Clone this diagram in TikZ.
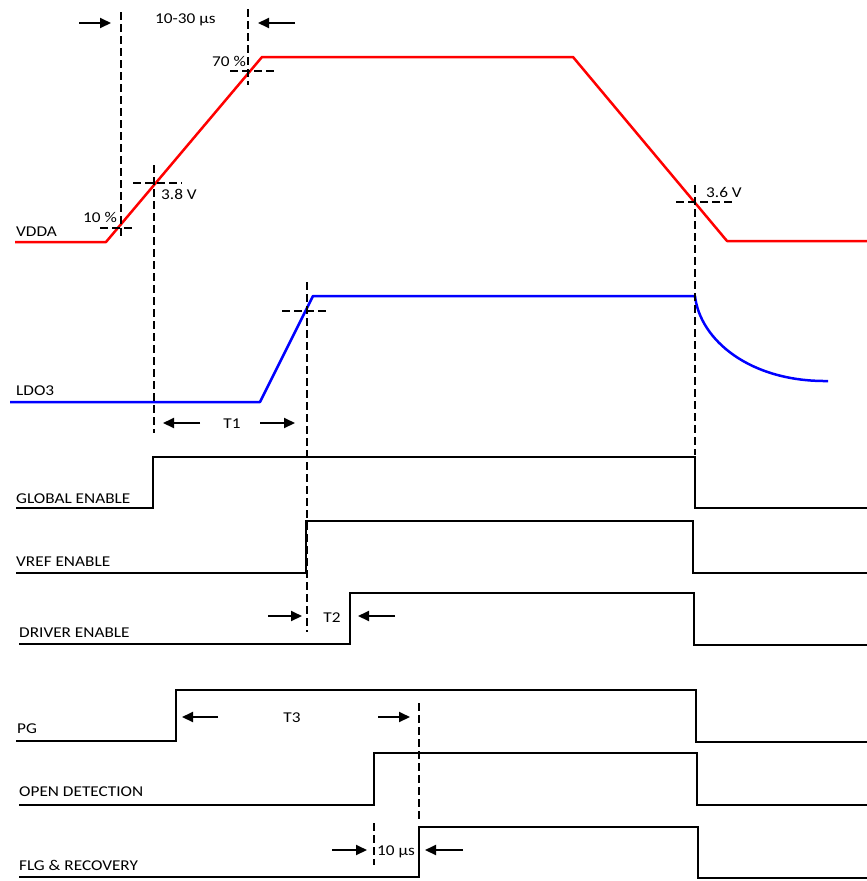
\documentclass[tikz,border=0pt]{standalone}
\usepackage{fontspec}
\setmainfont{Carlito}[FakeStretch=1.15]
\usetikzlibrary{arrows.meta}
\begin{document}
\begin{tikzpicture}[x=1pt,y=-1pt,
  sig/.style={line width=2pt, line join=miter},
  vdda/.style={red, line width=2.5pt, line join=round},
  ldo/.style={blue, line width=2.5pt, line join=round},
  guide/.style={line width=1.8pt, dash pattern=on 8pt off 4pt},
  dimarrow/.style={line width=2pt, -{Triangle[length=11pt,width=10pt]}},
  lbl/.style={anchor=base west, inner sep=0pt, font=\fontsize{15}{18}\selectfont},
  clbl/.style={anchor=base, inner sep=0pt, font=\fontsize{15}{18}\selectfont}]
\useasboundingbox (0,0) rectangle (867,881);

% signals
\draw[vdda] (15,242) -- (106,242) -- (262,57) -- (573,57) -- (727,241) -- (867,241);
\draw[ldo] (10,402) -- (260,402) -- (313,296) -- (695,296) .. controls (700,340) and (750,382) .. (828,381);
\draw[sig] (16,508) -- (153,508) -- (153,457) -- (695,457) -- (695,508) -- (867,508);
\draw[sig] (16,573) -- (306,573) -- (306,521) -- (693,521) -- (693,573) -- (867,573);
\draw[sig] (19,644) -- (350,644) -- (350,593) -- (694,593) -- (694,645) -- (867,645);
\draw[sig] (16,741) -- (176,741) -- (176,690) -- (696,690) -- (696,742) -- (867,742);
\draw[sig] (19,805) -- (374,805) -- (374,753) -- (697,753) -- (697,805) -- (867,805);
\draw[sig] (19,877) -- (419,877) -- (419,827) -- (698,827) -- (698,878) -- (867,878);

% guide lines
\draw[guide] (121,12) -- (121,238);
\draw[guide] (100,228) -- (135,228);
\draw[guide] (248,9) -- (248,85);
\draw[guide] (230,71) -- (277,71);
\draw[guide] (154,165) -- (154,433);
\draw[guide] (133,183) -- (182,183);
\draw[guide] (695,185) -- (695,455);
\draw[guide] (676,202) -- (733,202);
\draw[guide] (282,311) -- (328,311);
\draw[guide] (307,282) -- (307,632);
\draw[guide] (419,703) -- (419,822);
\draw[guide] (374,823) -- (374,865);

% dimension arrows
\coordinate (a1s) at (79,23);  \coordinate (a1e) at (111,23);
\coordinate (a2s) at (295,23); \coordinate (a2e) at (258,23);
\coordinate (t1as) at (200,423); \coordinate (t1ae) at (163,423);
\coordinate (t1bs) at (260,423); \coordinate (t1be) at (295,423);
\coordinate (t2as) at (268,616); \coordinate (t2ae) at (302,616);
\coordinate (t2bs) at (395,616); \coordinate (t2be) at (358,616);
\coordinate (t3as) at (218,717); \coordinate (t3ae) at (182,717);
\coordinate (t3bs) at (378,717); \coordinate (t3be) at (410,717);
\coordinate (t4as) at (332,850); \coordinate (t4ae) at (367,850);
\coordinate (t4bs) at (463,850); \coordinate (t4be) at (425,850);
\draw[dimarrow] (a1s) -- (a1e);
\draw[dimarrow] (a2s) -- (a2e);
\draw[dimarrow] (t1as) -- (t1ae);
\draw[dimarrow] (t1bs) -- (t1be);
\draw[dimarrow] (t2as) -- (t2ae);
\draw[dimarrow] (t2bs) -- (t2be);
\draw[dimarrow] (t3as) -- (t3ae);
\draw[dimarrow] (t3bs) -- (t3be);
\draw[dimarrow] (t4as) -- (t4ae);
\draw[dimarrow] (t4bs) -- (t4be);

% labels
\node[lbl] (lvdda) at (16,236) {VDDA};
\node[lbl] (lldo) at (16,395) {LDO3};
\node[lbl] (lge) at (16,503) {GLOBAL ENABLE};
\node[lbl] (lve) at (16,566) {VREF ENABLE};
\node[lbl] (lde) at (19,637) {DRIVER ENABLE};
\node[lbl] (lpg) at (17,733) {PG};
\node[lbl] (lod) at (19,796) {OPEN DETECTION};
\node[lbl] (lflg) at (19,870) {FLG \& RECOVERY};
\node[lbl] (l10) at (83,222) {10 \%};
\node[lbl] (l70) at (212,66) {70 \%};
\node[lbl] (l38) at (161,199) {3.8 V};
\node[lbl] (l36) at (706,197) {3.6 V};
\node[lbl] (l1030) at (155,23) {10-30 µs};
\node[clbl] (lt1) at (232,428) {T1};
\node[clbl] (lt2) at (332,622) {T2};
\node[clbl] (lt3) at (292,722) {T3};
\node[lbl] (l10us) at (377,855) {10 µs};
\end{tikzpicture}
\end{document}
